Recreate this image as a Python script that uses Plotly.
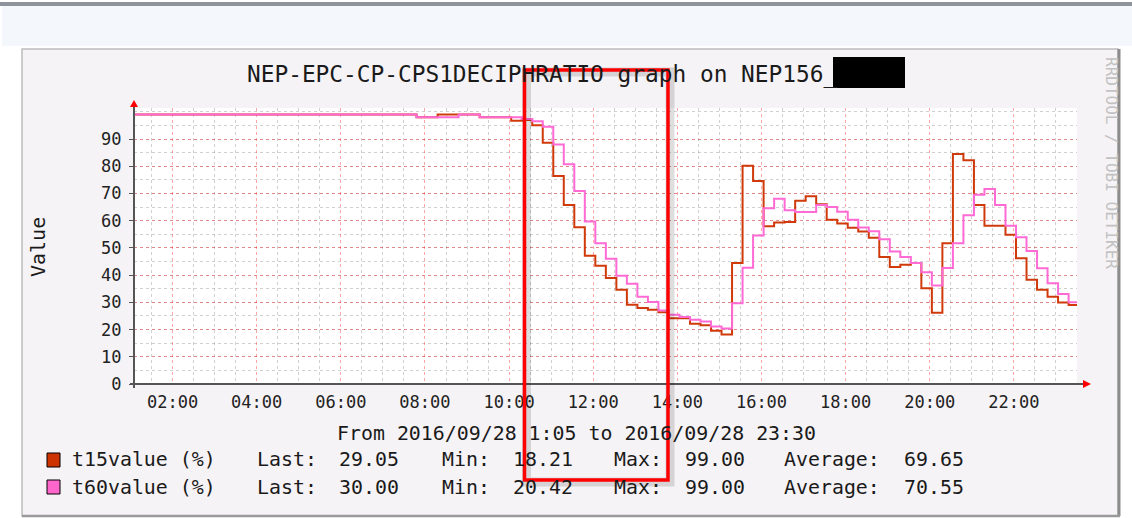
import pandas as pd
import plotly.graph_objects as go

# ---------------- data (15-minute steps starting 2016-09-28 01:03) ----------------
step_start = "2016-09-28 01:03"
step_freq = "15min"

t15value = [
    99, 99, 99, 99, 99, 99, 99, 99, 99, 99,
    99, 99, 99, 99, 99, 99, 99, 99, 99, 99,
    99, 99, 99, 99, 99, 99, 99, 98, 98, 99,
    99, 99, 99, 98, 98, 98, 96.7, 97.0, 95.1, 88.6,
    76.4, 65.8, 57.6, 47.1, 43.4, 38.9, 34.6, 29.1, 27.9, 27.3,
    26.4, 24.2, 24.2, 22.1, 21.6, 19.6, 18.21, 44.5, 80.2, 74.6,
    58.0, 59.3, 59.5, 67.3, 69.0, 66.0, 60.3, 59.0, 57.4, 56.0,
    53.7, 46.7, 43.0, 43.8, 44.5, 35.2, 26.2, 51.7, 84.5, 82.2,
    65.8, 58.1, 58.1, 54.8, 46.2, 38.3, 34.6, 32.1, 29.9, 29.05,
]
t60value = [
    99, 99, 99, 99, 99, 99, 99, 99, 99, 99,
    99, 99, 99, 99, 99, 99, 99, 99, 99, 99,
    99, 99, 99, 99, 99, 99, 99, 98, 98, 98,
    98, 99, 99, 98, 98, 98, 98, 97.4, 96.5, 94.5,
    88.0, 80.7, 70.9, 59.7, 51.7, 46.0, 39.8, 36.8, 32.1, 30.1,
    27.0, 25.4, 24.6, 23.6, 23.0, 21.1, 20.42, 29.7, 42.7, 54.6,
    64.6, 68.1, 63.8, 63.2, 63.2, 65.8, 65.0, 63.3, 60.3, 57.5,
    56.1, 53.2, 48.7, 46.7, 44.5, 41.1, 36.2, 42.6, 51.7, 62.0,
    69.5, 71.6, 65.8, 58.1, 53.9, 48.9, 42.5, 37.0, 33.1, 30.0,
]

series_names = ["t15value (%)", "t60value (%)"]
series_colors = ["#cc3300", "#ff66cc"]
line_colors = ["#d03a0a", "#ff6ad5"]
last_vals = ["29.05", "30.00"]
min_vals = ["18.21", "20.42"]
max_vals = ["99.00", "99.00"]
avg_vals = ["69.65", "70.55"]

title_text = "NEP-EPC-CP-CPS1DECIPHRATIO graph on NEP156_"
period_text = "From 2016/09/28 1:05 to 2016/09/28 23:30"
y_label = "Value"
watermark = "RRDTOOL / TOBI OETIKER"
x_range = ["2016-09-28 01:05", "2016-09-28 23:30"]
y_tick_vals = [0, 10, 20, 30, 40, 50, 60, 70, 80, 90]

# ---------------- layout geometry ----------------
W, H = 1132, 518
L, R, T, B = 134, 55, 108, 134
PW = W - L - R
PH = H - T - B
FONT = "DejaVu Sans Mono"


def px(x):
    return (x - L) / PW


def py(y):
    return (H - B - y) / PH


times = pd.date_range(step_start, periods=len(t15value) + 1, freq=step_freq)

fig = go.Figure()
for name, vals, col in zip(series_names, [t15value, t60value], line_colors):
    fig.add_trace(go.Scatter(
        x=times, y=list(vals) + [vals[-1]], mode="lines", name=name,
        line=dict(color=col, width=2, shape="hv"), showlegend=False,
    ))

shapes = []
# screenshot surroundings
shapes.append(dict(type="rect", xref="paper", yref="paper", x0=px(0), x1=px(W), y0=py(6), y1=py(2),
                   fillcolor="#8f939b", line=dict(width=0), layer="below"))
shapes.append(dict(type="rect", xref="paper", yref="paper", x0=px(2), x1=px(W), y0=py(46), y1=py(6),
                   fillcolor="#f4f7fc", line=dict(width=0), layer="below"))
# rrd image frame
shapes.append(dict(type="rect", xref="paper", yref="paper", x0=px(22), x1=px(1118), y0=py(516), y1=py(49),
                   fillcolor="#f6f3f6", line=dict(color="#bdbdbd", width=1.5), layer="below"))
shapes.append(dict(type="line", xref="paper", yref="paper", x0=px(1119), x1=px(1119), y0=py(516), y1=py(49),
                   line=dict(color="#8c8c8c", width=3), layer="below"))
shapes.append(dict(type="line", xref="paper", yref="paper", x0=px(22), x1=px(1120), y0=py(516), y1=py(516),
                   line=dict(color="#9a9a9a", width=2.5), layer="below"))
# canvas
shapes.append(dict(type="rect", xref="paper", yref="paper", x0=0, x1=1, y0=0, y1=1,
                   fillcolor="#ffffff", line=dict(width=0), layer="below"))
# axis lines + arrows
shapes.append(dict(type="line", xref="paper", yref="paper", x0=px(130), x1=px(1084), y0=py(384), y1=py(384),
                   line=dict(color="#555555", width=2), layer="above"))
shapes.append(dict(type="line", xref="paper", yref="paper", x0=px(134), x1=px(134), y0=py(388), y1=py(105),
                   line=dict(color="#555555", width=2), layer="above"))


def path(points):
    s = "M " + " L ".join(f"{px(a)},{py(b)}" for a, b in points) + " Z"
    return s


shapes.append(dict(type="path", xref="paper", yref="paper", path=path([(130, 107), (138, 107), (134, 100)]),
                   fillcolor="#ff0000", line=dict(width=0), layer="above"))
shapes.append(dict(type="path", xref="paper", yref="paper", path=path([(1083, 380), (1083, 388), (1091, 384)]),
                   fillcolor="#ff0000", line=dict(width=0), layer="above"))
# title redaction
shapes.append(dict(type="rect", xref="paper", yref="paper", x0=px(833), x1=px(905), y0=py(88), y1=py(57),
                   fillcolor="#000000", line=dict(width=0), layer="above"))
# legend swatches
for i, col in enumerate(series_colors):
    yc = 460 + 27 * i
    shapes.append(dict(type="rect", xref="paper", yref="paper", x0=px(47), x1=px(60), y0=py(yc + 7), y1=py(yc - 7),
                       fillcolor=col, line=dict(color="#000000", width=1), layer="above"))
# red highlight box with shadow
shapes.append(dict(type="rect", xref="paper", yref="paper", x0=px(526.5), x1=px(670), y0=py(482), y1=py(72),
                   fillcolor="rgba(0,0,0,0)", line=dict(color="rgba(0,0,0,0.13)", width=9), layer="above"))
shapes.append(dict(type="rect", xref="paper", yref="paper", x0=px(524.5), x1=px(668), y0=py(480), y1=py(70),
                   fillcolor="rgba(0,0,0,0)", line=dict(color="#ff0000", width=3.5), layer="above"))

ann = []


def text(x, y, s, size=20, anchor="left", color="#1a1a1a", angle=0, fam=FONT):
    ann.append(dict(x=px(x), y=py(y), xref="paper", yref="paper", text=s, showarrow=False,
                    xanchor=anchor, yanchor="middle", textangle=angle,
                    font=dict(family=fam, size=size, color=color)))


text(245, 75, title_text, size=22.8)
text(576, 433, period_text, size=19.9, anchor="center")
text(38, 247, y_label, size=20, anchor="center", angle=-90)
text(1112, 163, watermark, size=16, anchor="center", angle=90, color="#c2c2c2")
for i in range(2):
    yc = 460 + 27 * i
    text(70, yc, series_names[i], size=19.9)
    text(255, yc, "Last:", size=19.9)
    text(337, yc, last_vals[i], size=19.9)
    text(440, yc, "Min:", size=19.9)
    text(511, yc, min_vals[i], size=19.9)
    text(612, yc, "Max:", size=19.9)
    text(683, yc, max_vals[i], size=19.9)
    text(782, yc, "Average:", size=19.9)
    text(902, yc, avg_vals[i], size=19.9)

fig.update_layout(
    width=W, height=H, margin=dict(l=L, r=R, t=T, b=B, pad=0),
    paper_bgcolor="#ffffff", plot_bgcolor="#ffffff",
    shapes=shapes, annotations=ann, showlegend=False,
    xaxis=dict(
        type="date", range=x_range, tickformat="%H:%M", dtick=7200000, tick0="2016-09-28 00:00",
        showgrid=True, gridcolor="rgba(255,0,0,0.35)", griddash="dot", gridwidth=1,
        minor=dict(dtick=1800000, tick0="2016-09-28 00:00", showgrid=True,
                   gridcolor="rgba(120,120,120,0.35)", griddash="dot", gridwidth=1),
        showline=False, zeroline=False, ticks="", ticklabelstandoff=6,
        tickfont=dict(family=FONT, size=17, color="#222222"), fixedrange=True,
    ),
    yaxis=dict(
        range=[0, 101.4], tickvals=y_tick_vals, showgrid=True,
        gridcolor="rgba(255,0,0,0.35)", griddash="dot", gridwidth=1,
        minor=dict(dtick=5, tick0=0, showgrid=True, gridcolor="rgba(120,120,120,0.35)",
                   griddash="dot", gridwidth=1),
        showline=False, zeroline=False, ticks="outside", ticklen=4, tickcolor="#555555",
        ticklabelstandoff=4,
        tickfont=dict(family=FONT, size=17, color="#222222"), fixedrange=True,
    ),
)

fig.write_html(
    "out.html",
    config={"displayModeBar": False},
    post_script="document.body.style.margin='0';document.body.style.overflow='hidden';",
)
